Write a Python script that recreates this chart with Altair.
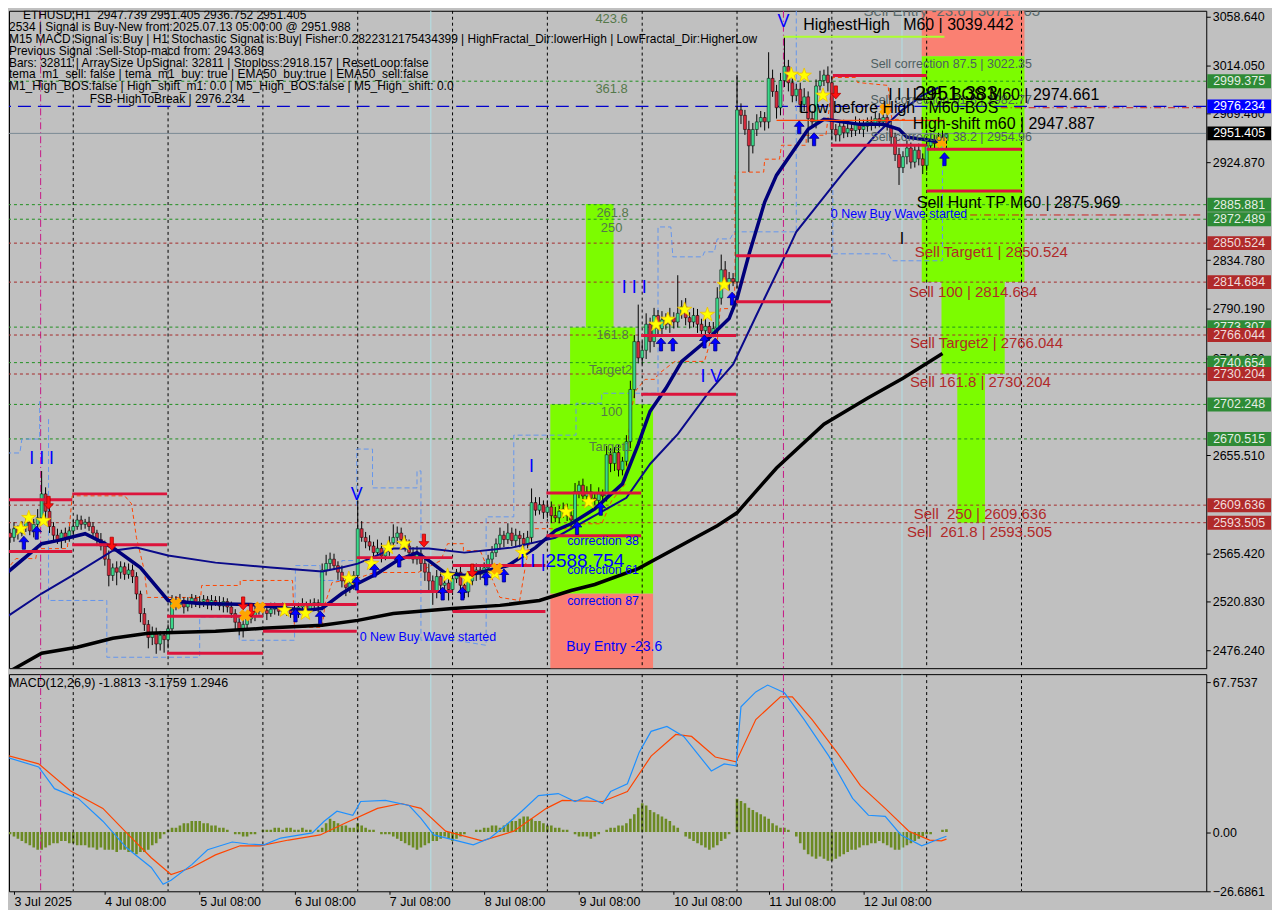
import altair as alt
import pandas as pd

FONT = "Liberation Sans"
W, H_MAIN, H_MACD = 1202, 660, 218
XDOM = [1, 301.5]            # hours after 3 Jul 2025 08:00
YDOM = [2459.77, 3064.13]    # price
MDOM = [-26.75, 71.33]       # MACD

# ---------------- candles (one per hour) ----------------
closes = [
    2580, 2588, 2584, 2590, 2594, 2586, 2592, 2598, 2620, 2604,
    2590, 2582, 2578, 2584, 2580, 2586, 2590, 2596, 2592, 2594,
    2590, 2584, 2578, 2572, 2560, 2545, 2552, 2548, 2553, 2546,
    2550, 2544, 2528, 2510, 2500, 2488, 2492, 2482, 2490, 2486,
    2496, 2522, 2518, 2522, 2516, 2520, 2524, 2519, 2521, 2523,
    2518, 2522, 2520, 2517, 2521, 2516, 2510, 2502, 2496, 2500,
    2505, 2508, 2512, 2515, 2513, 2510, 2514, 2516, 2512, 2515,
    2513, 2510, 2512, 2516, 2518, 2514, 2518, 2520, 2517, 2550,
    2556, 2560, 2554, 2548, 2540, 2534, 2538, 2545, 2588, 2580,
    2576, 2572, 2566, 2570, 2563, 2568, 2575, 2580, 2584, 2578,
    2572, 2566, 2560, 2565, 2556, 2548, 2540, 2530, 2544, 2536,
    2538, 2532, 2542, 2548, 2536, 2530, 2540, 2546, 2550, 2546,
    2552, 2560, 2566, 2574, 2582, 2578, 2584, 2577, 2582, 2579,
    2574, 2580, 2612, 2605, 2610, 2603, 2608, 2600, 2598, 2604,
    2606, 2600, 2596, 2622, 2628, 2618, 2622, 2616, 2614, 2620,
    2618, 2656, 2648, 2658, 2642, 2650, 2668, 2716, 2760, 2745,
    2752, 2776, 2760, 2784, 2772, 2780, 2776, 2782, 2778, 2786,
    2792, 2782, 2778, 2784, 2776, 2770, 2774, 2768, 2772, 2800,
    2826, 2814, 2818, 2815, 2973, 2968, 2955, 2940, 2955, 2962,
    2966, 2962, 3002, 2990, 2975, 3000, 3013, 2998, 2986, 2992,
    2978, 2985, 2965, 2962, 2995, 3000, 3005, 2998, 2955, 2950,
    2958, 2952, 2956, 2954, 2960, 2955, 2958, 2962, 2960, 2965,
    2962, 2966, 2958, 2948, 2932, 2920, 2930, 2938, 2925, 2936,
    2928, 2922, 2940, 2945, 2942, 2948, 2947.739, 2951.405,
]
wick_up = [
    4, 6, 3, 5, 4, 6, 5, 8, 21, 6,
    5, 4, 6, 3, 5, 4, 6, 5, 4, 3,
    5, 4, 3, 6, 5, 8, 4, 6, 5, 4,
    6, 5, 4, 3, 5, 4, 6, 5, 4, 3,
    4, 5, 4, 6, 3, 5, 4, 3, 5, 4,
    3, 5, 4, 6, 4, 3, 5, 4, 6, 4,
    5, 4, 6, 3, 5, 4, 6, 4, 3, 5,
    4, 3, 5, 4, 6, 3, 5, 4, 3, 6,
    8, 6, 5, 4, 6, 3, 5, 4, 26, 7,
    5, 6, 4, 8, 5, 4, 6, 12, 6, 5,
    4, 6, 5, 7, 4, 6, 8, 5, 6, 4,
    5, 4, 6, 3, 5, 4, 7, 5, 6, 4,
    5, 4, 6, 5, 7, 4, 9, 5, 6, 4,
    5, 6, 13, 5, 7, 4, 6, 5, 8, 5,
    6, 5, 4, 8, 4, 6, 5, 7, 5, 6,
    4, 8, 6, 5, 7, 4, 6, 8, 6, 34,
    8, 10, 6, 7, 5, 8, 6, 9, 5, 35,
    6, 8, 5, 7, 6, 5, 8, 4, 6, 10,
    14, 8, 6, 5, 32, 6, 5, 8, 6, 7,
    6, 5, 24, 8, 6, 7, 28, 6, 9, 5,
    6, 8, 5, 7, 6, 9, 5, 8, 6, 5,
    4, 6, 5, 4, 7, 5, 6, 4, 5, 6,
    5, 4, 6, 5, 4, 6, 5, 7, 5, 4,
    6, 5, 4, 6, 5, 4, 6, 0,
]
wick_dn = [
    5, 4, 6, 3, 5, 4, 6, 5, 4, 7,
    6, 5, 4, 8, 5, 4, 6, 3, 5, 4,
    4, 5, 6, 4, 6, 10, 5, 12, 6, 5,
    4, 6, 5, 8, 6, 10, 7, 9, 6, 12,
    8, 4, 5, 3, 6, 4, 5, 3, 4, 5,
    4, 5, 3, 4, 6, 5, 4, 7, 6, 8,
    6, 4, 5, 3, 4, 6, 3, 5, 4, 3,
    5, 4, 3, 6, 4, 5, 3, 4, 6, 4,
    5, 6, 4, 7, 6, 8, 5, 6, 5, 4,
    6, 4, 5, 3, 6, 4, 5, 4, 6, 5,
    5, 6, 4, 5, 7, 8, 10, 12, 6, 8,
    6, 10, 5, 4, 8, 6, 5, 4, 6, 5,
    4, 5, 6, 4, 5, 7, 4, 5, 6, 8,
    5, 4, 6, 5, 4, 6, 5, 7, 4, 5,
    6, 5, 7, 4, 6, 5, 8, 6, 4, 5,
    6, 5, 8, 7, 6, 5, 4, 6, 8, 5,
    6, 8, 10, 5, 7, 6, 5, 8, 6, 5,
    5, 7, 6, 5, 8, 6, 5, 7, 4, 6,
    6, 5, 7, 4, 6, 8, 5, 24, 7, 6,
    5, 8, 6, 5, 10, 7, 6, 8, 6, 5,
    7, 6, 22, 5, 6, 4, 5, 8, 10, 6,
    6, 5, 4, 6, 5, 4, 7, 5, 6, 4,
    5, 6, 4, 8, 6, 16, 5, 7, 6, 5,
    6, 8, 5, 4, 6, 5, 4, 11,
]
first_open = 2584

# ---------------- indicator lines (hour, price) ----------------
ema_fast_h = [-1, 8, 12, 19, 26, 33, 40, 48, 61, 75, 79, 84, 88, 93, 98, 103, 106, 110, 115, 119,
              126, 133, 138, 142, 148, 155, 159, 162, 166, 170, 176, 182, 184, 187, 191, 194, 202,
              206, 208, 215, 221, 225, 227, 231, 236]
ema_fast_p = [2546.8, 2574.2, 2577.0, 2583.4, 2570.6, 2552.3, 2522.0, 2519.3, 2518.4, 2512.9,
              2514.7, 2528.4, 2537.6, 2546.8, 2558.7, 2566.0, 2558.7, 2547.7, 2545.0, 2547.7,
              2554.1, 2570.6, 2586.1, 2592.5, 2606.3, 2629.2, 2665.8, 2696.0, 2717.1, 2741.8,
              2760.1, 2781.2, 2799.5, 2839.8, 2888.3, 2913.0, 2955.2, 2964.3, 2963.4, 2959.7,
              2959.7, 2955.2, 2947.9, 2946.0, 2943.3]
ema_slow_h = [-1, 8, 17, 26, 32, 40, 52, 66, 79, 84, 88, 97, 106, 115, 127, 138, 156, 162, 169,
              177, 183, 189, 197, 199, 211, 219, 226, 231, 235]
ema_slow_p = [2506.5, 2528.4, 2547.7, 2567.8, 2570.6, 2563.3, 2556.8, 2552.3, 2548.6, 2552.3,
              2555.9, 2569.7, 2569.7, 2566.0, 2570.6, 2579.7, 2616.4, 2647.5, 2675.0, 2714.3,
              2739.1, 2784.9, 2845.3, 2860.9, 2915.8, 2949.7, 2973.5, 2986.3, 2993.6]
sma_h = [-1, 8, 17, 26, 35, 52, 64, 79, 88, 97, 112, 124, 134, 142, 148, 159, 179, 184, 194, 206,
         217, 226, 236]
sma_p = [2455.0, 2473.5, 2479.0, 2487.3, 2491.8, 2493.7, 2496.4, 2499.2, 2503.7, 2510.1, 2514.7,
         2517.5, 2522.0, 2531.2, 2536.7, 2551.3, 2590.7, 2602.6, 2643.8, 2684.1, 2707.9, 2726.3,
         2749.1]

# orange dashed trailing line
orange_h = [-1, 1.5, 6.5, 7, 14.5, 15.75, 29, 30.75, 32, 34, 34.75, 48.25, 48.5, 58.25, 58.25, 71.5,
            72, 79, 79.75, 81.5, 87.75, 92.25, 103.25, 109, 110.75, 114.75, 114.75, 119, 124, 129,
            132, 141.5, 142.75, 149.75, 152.25, 155.75, 157, 158.25, 160.75, 163.25, 164, 168.25,
            175.75, 177.25, 179, 179.75, 183.25, 183.5, 183.5, 190.75, 191, 194.75, 195.25, 201.5,
            201.5, 206.5, 208.25, 214, 214.5, 222.25, 222.75, 223.25, 226.5]
orange_p = [2549.5, 2560.5, 2560.5, 2569.7, 2569.7, 2618.2, 2618.2, 2610.9, 2579.7, 2549.5, 2524.8,
            2524.8, 2535.8, 2535.8, 2540.4, 2540.4, 2497.3, 2497.3, 2519.3, 2538.5, 2542.2, 2547.7,
            2547.7, 2558.7, 2574.2, 2574.2, 2567.8, 2567.8, 2524.8, 2522.0, 2588.0, 2588.0, 2592.5,
            2592.5, 2613.6, 2629.2, 2693.3, 2714.3, 2725.3, 2725.3, 2729.9, 2741.8, 2741.8, 2760.1,
            2760.1, 2790.3, 2790.3, 2817.8, 2915.8, 2915.8, 2927.7, 2927.7, 2940.5, 2940.5, 2949.7,
            2949.7, 3002.8, 3002.8, 2998.2, 2995.5, 2973.5, 2964.3, 2964.3]

# light-blue dashed channel pieces (group id, hour, price)
blue_g = [1] * 5 + [2] * 16 + [3] * 31 + [4] * 6
blue_h = [-1, 2.5, 3, 7.5, 7.5,
          9.75, 9.75, 24.5, 24.5, 39.75, 48, 48, 58, 58, 72, 72.25, 78.5, 78.5, 84, 84, 87.25,
          87.75, 87.75, 91.75, 91.75, 103, 103, 104, 104, 112.75, 120.5, 120.5, 127.5, 127.5,
          131.25, 143.25, 143.25, 149.75, 149.75, 158.25, 164, 164, 167.25, 167.75, 175.25,
          175.75, 178.25, 179, 182.25, 183.25, 199, 199,
          208.25, 208.25, 222.25, 223.25, 236, 236]
blue_p = [2657.6, 2657.6, 2670.4, 2670.4, 2705.2,
          2688.7, 2522.0, 2522.0, 2469.8, 2469.8, 2469.8, 2506.5, 2506.5, 2485.4, 2485.4, 2554.1,
          2554.1, 2540.4, 2540.4, 2558.7, 2558.7,
          2609.0, 2661.2, 2661.2, 2625.5, 2625.5, 2641.1, 2641.1, 2485.4, 2485.4, 2480.8, 2598.9,
          2598.9, 2674.0, 2674.0, 2674.0, 2703.3, 2703.3, 2712.5, 2712.5, 2712.5, 2865.4, 2865.4,
          2837.9, 2837.9, 2842.5, 2842.5, 2854.4, 2854.4, 2860.9, 2860.9, 3071.5,
          2906.6, 2840.7, 2840.7, 2834.3, 2834.3, 2946.0]

# red support / resistance segments
seg_h1 = [-0.25, -0.25, 15.75, 15.75, 39.75, 39.75, 64, 64, 87.75, 87.75, 112, 112, 135.75, 135.75,
          159.75, 159.75, 183.75, 183.75, 208.25, 207.75, 232, 232]
seg_h2 = [15.75, 15.75, 39.75, 39.75, 64, 64, 87.75, 87.75, 112, 112, 135.5, 135.5, 159.75, 159.75,
          183.75, 183.75, 207.75, 207.75, 232, 232, 256, 256]
seg_p = [2614.5, 2567.0, 2620.0, 2573.3, 2507.4, 2473.5, 2518.4, 2493.7, 2561.4, 2530.3, 2554.1,
         2511.9, 2620.9, 2581.6, 2765.6, 2711.6, 2838.9, 2796.7, 3004.6, 2940.5, 2936.9, 2898.4]

# fibonacci zones
zone_h1 = [136.75, 136.75, 141.75, 145.75, 230.75, 230.75, 235.75, 239.75]
zone_h2 = [162.75, 162.75, 158.25, 152.75, 256.75, 256.75, 251.75, 246.75]
zone_p1 = [2440.0, 2528.4, 2702.4, 2772.9, 3022.35, 2814.684, 2730.204, 2593.505]
zone_p2 = [2528.4, 2702.4, 2772.9, 2886.5, 3071.7, 3022.35, 2814.684, 2730.204]
zone_kind = ["entry", "zone", "zone", "zone", "entry", "zone", "zone", "zone"]

# markers
star_h = [2.75, 4.75, 8.5, 69.5, 74.75, 85.75, 91.5, 95.75, 99.75, 110.75, 115.75, 122.75, 129.75,
          140.75, 146.5, 163.5, 166.5, 170.75, 176.5, 180.75, 197.75, 201, 205.75]
star_p = [2587.9, 2598.0, 2595.3, 2512.9, 2510.1, 2542.2, 2555.9, 2570.6, 2574.2, 2545.0, 2542.2,
          2546.8, 2566.0, 2603.5, 2612.7, 2775.7, 2780.3, 2789.4, 2784.8, 2812.3, 3005.5, 3004.6,
          2986.3]
up_h = [3.5, 6.75, 72.25, 78.5, 87.75, 92.25, 98.5, 109.5, 114.5, 120.5, 125, 143.5, 149.5, 164.75,
        167.75, 175.75, 178.5, 182.75, 199.75, 203.5, 236.5]
up_p = [2575.1, 2584.3, 2508.3, 2506.5, 2537.6, 2549.5, 2558.7, 2528.4, 2528.4, 2542.2, 2545.0,
        2588.7, 2606.3, 2757.4, 2757.4, 2760.1, 2757.4, 2799.5, 2957.0, 2946.0, 2927.7]
dn_h = [9.75, 25.75, 59, 61, 104.75, 117, 209]
dn_p = [2611.8, 2574.2, 2519.3, 2512.9, 2577.0, 2549.5, 2989.1]
xm_h = [42, 59.5, 63.25, 123.25, 221.5, 235.75]
xm_p = [2519.3, 2508.3, 2515.6, 2551.3, 2973.5, 2943.3]

# horizontal levels
green_levels = [2999.375, 2885.881, 2872.489, 2773.307, 2740.654, 2702.248, 2670.515]
red_levels = [2850.524, 2814.684, 2766.044, 2730.204, 2609.636, 2593.505]
fsb_level = 2976.234
last_price = 2951.405
price_ticks = [3058.64, 3014.05, 2969.46, 2924.87, 2834.78, 2790.19, 2744.60, 2655.51, 2565.42,
               2520.83, 2476.24]

# vertical lines
grid_h = [16, 40, 64, 88, 112, 136, 160, 184, 208, 232, 256]
magenta_h = [7.75, 195.75]
lightblue_h = [106.5, 225.75]

# ---------------- MACD ----------------
macd_h = [-1, 7.25, 11.25, 17.25, 23.5, 29.5, 35.75, 38.75, 40.75, 46, 50, 56.25, 60.25, 64.25,
          68.5, 76.5, 79.5, 82.75, 86.75, 88.75, 95, 101, 104, 107.25, 113.25, 117.25, 121.5,
          125.5, 129.5, 133.75, 138.75, 143, 146, 150, 152, 156.25, 159.25, 162.25, 166.25, 170.5,
          174.5, 177.5, 180.75, 183.75, 185, 188.75, 191.75, 196, 201, 207.25, 213.25, 217.25,
          221.5, 225.5, 230.75, 235.75, 237]
macd_v = [33.9, 29.4, 19.6, 15.2, 4.9, -7.1, -16.0, -23.6, -21.8, -14.7, -8.0, -4.5, -5.4, -5.8,
          -2.7, -0.4, 4.9, 9.4, 7.6, 13.8, 14.3, 12.0, 6.2, -1.3, -4.0, -5.8, -2.7, 3.1, 9.4, 16.5,
          17.4, 13.8, 16.0, 12.9, 18.3, 21.8, 36.1, 45.5, 47.7, 43.2, 34.3, 27.6, 30.8, 29.9, 56.6,
          63.3, 66.4, 62.9, 50.8, 34.3, 15.2, 7.6, 7.1, -1.3, -6.2, -2.7, -1.8813]
sig_h = [-1, 7.25, 15.25, 23.5, 29.5, 35.75, 40.75, 46, 52, 58.25, 63.25, 70.5, 78.5, 84.75, 93,
         99, 104, 110.25, 119.5, 127.5, 135.75, 139.75, 150, 156.25, 162.25, 168.5, 172.5, 178.5,
         183.75, 188.75, 195, 198, 203, 209.25, 215.25, 221.5, 227.5, 232.75, 235.75, 237]
sig_v = [34.8, 30.8, 18.7, 10.7, -0.4, -11.6, -19.2, -16.0, -10.3, -6.2, -6.2, -3.6, -1.3, 4.0,
         10.7, 12.9, 10.7, 0.4, -4.0, 0.4, 10.7, 14.3, 13.8, 18.3, 34.3, 44.1, 43.2, 33.9, 31.7,
         50.8, 61.1, 61.1, 50.8, 36.1, 21.0, 10.7, 0.4, -3.6, -4.0, -3.1759]
hist = [
    -1, -2, -3, -4, -5, -6, -7, -8, -8, -7, -6, -5, -5, -4, -4, -5, -5, -6, -6,
    -6, -7, -7, -8, -7, -8, -8, -8, -9, -8, -8, -9, -9, -10, -9, -9, -8, -6, -5, -3, -1,
    1, 2, 2, 3, 4, 4, 5, 5, 5, 4, 4, 3, 3, 2, 2, 1, 0, -1, -1, -2, -2, -1, -1, 0, 1,
    1, 1, 2, 2, 1, 2, 2, 1, 1, 2, 1, 1, 0, 1, 2,
    4, 6, 5, 4, 3, 3, 2, 2, 4, 3, 2, 1, 1, 0, -1, -1,
    -1, -2, -3, -4, -5, -6, -7, -8, -7, -6, -5, -4, -4, -3, -2, -3, -4, -3, -2, -1, 0, 0, 1,
    1, 2, 2, 3, 3, 2, 3, 4, 5, 5, 6, 7, 7, 6, 5, 5, 4, 3, 3, 2, 2, 1,
    1, 0, -1, -2, -2, -2, -3, -2, -1, 0, 1, 2, 2,
    3, 3, 4, 6, 8, 11, 13, 12, 10, 9, 8, 7, 6, 5, 3, 2,
    0, -2, -3, -4, -5, -6, -7, -8, -7, -6, -4, -3, -1, 0,
    15, 14, 13, 11, 10, 9, 8, 7, 6, 4, 3, 2, 2, 1, 0, -2, -5, -8, -10,
    -11, -12, -11, -12, -13, -13, -12, -11, -10, -9, -8, -8, -7, -6, -6, -5, -5, -4,
    -5, -6, -7, -8, -8, -7, -6, -5, -4, -3, -2, -1, -1, 0, 0, 1, 1.2946,
]
macd_ticks = [67.7537, 0, -26.6861]
date_ticks = [1, 24, 48, 72, 96, 120, 144, 168, 192, 216]

# ---------------- text ----------------
info_line1 = "ETHUSD,H1\u00a0\u00a02947.739 2951.405 2936.752 2951.405"
info_lines = [
    "2534 | Signal is Buy-New from:2025.07.13 05:00:00 @ 2951.988",
    "M15 MACD Signal is:Buy | H1 Stochastic Signal is:Buy| Fisher:0.2822312175434399 | HighFractal_Dir:lowerHigh | LowFractal_Dir:HigherLow",
    "Previous Signal :Sell-Stop-macd from: 2943.869",
    "Bars: 32811 | ArraySize UpSignal: 32811 | Stoploss:2918.157 | ResetLoop:false",
    "tema_m1_sell: false | tema_m1_buy: true | EMA50_buy:true | EMA50_sell:false",
    "M1_High_BOS:false | High_shift_m1: 0.0 | M5_High_BOS:false | M5_High_shift: 0.0",
]
info_line8 = "FSB-HighToBreak | 2976.234"
macd_title = "MACD(12,26,9) -1.8813 -3.1759 1.2946"

black_big = [
    ("HighestHigh\u00a0\u00a0\u00a0M60 | 3039.442", 200.75, 3051.3),
    ("Sell Hunt TP M60 | 2875.969", 229.5, 2887.4),
    ("High-shift m60 | 2947.887", 228.5, 2959.7),
    ("Low before High\u00a0\u00a0\u00a0M60-BOS", 199.75, 2974.4),
    ("LLH_BOS M60 | 2974.661", 228.5, 2986.3),
    ("I I I", 222.25, 2986.3),
]
black_huge = [("2951.383", 229, 2987.2)]
black_tick = [("I", 225.75, 2854.4)]
gray_small = [
    ("Sell correction 87.5 | 3022.35", 217.75, 3015.6),
    ("Sell correction 61.8 | 2982.77", 217.75, 2981.7),
    ("Sell correction 38.2 | 2954.96", 217.75, 2947.8),
]
gray_big = [("Sell Entry -23.6 | 3071.703", 216, 3064.1)]
sell_red = [
    ("Sell Target1 | 2850.524", 229, 2842.5),
    ("Sell 100 | 2814.684", 227.5, 2805.9),
    ("Sell Target2 | 2766.044", 227.75, 2758.3),
    ("Sell 161.8 | 2730.204", 227.75, 2722.6),
    ("Sell\u00a0 250 | 2609.636", 228.75, 2601.7),
    ("Sell\u00a0 261.8 | 2593.505", 227, 2585.2),
]
fib_olive = [
    ("423.6", 152.25, 3057.0), ("361.8", 152.25, 2991.8), ("261.8", 152.5, 2878.3),
    ("250", 152.25, 2864.5), ("161.8", 152.5, 2765.6), ("Target2", 152, 2733.6),
    ("100", 152.25, 2695.1), ("Target1", 152, 2663.1),
]
blue_small = [
    ("correction 38", 141, 2577.0), ("correction 61", 141, 2550.4), ("correction 87", 141, 2521.1),
    ("0 New Buy Wave started", 88.5, 2488.1), ("0 New Buy Wave started", 207.75, 2877.3),
]
blue_mid = [("Buy Entry -23.6", 140.75, 2479.0)]
blue_big = [("2588.754", 135.5, 2558.7), ("I I |", 129, 2558.7)]
roman = [("I I I", 8, 2652.1), ("V", 87.75, 2619.1), ("I", 132, 2644.8), ("I I I", 158, 2809.6),
         ("I V", 177.5, 2727.2), ("V", 195.75, 3053.5)]

STAR = "M0,-1L0.235,-0.324L0.951,-0.309L0.38,0.124L0.588,0.809L0,0.4L-0.588,0.809L-0.38,0.124L-0.951,-0.309L-0.235,-0.324Z"
UP = "M0,-1L0.75,-0.15L0.25,-0.15L0.25,1L-0.25,1L-0.25,-0.15L-0.75,-0.15Z"
DOWN = "M0,1L0.75,0.15L0.25,0.15L0.25,-1L-0.25,-1L-0.25,0.15L-0.75,0.15Z"

# ---------------- shared axes ----------------
PRICE_AXIS = alt.Axis(orient="right", values=price_ticks, format=".3f", title=None,
                      labelFont=FONT, labelFontSize=12.5, labelColor="black",
                      tickColor="black", tickSize=4, labelPadding=2, domain=False,
                      grid=False, labelOverlap=False, zindex=0)
DATE_AXIS = alt.Axis(values=date_ticks, title=None, labelAlign="left",
                     labelExpr="datum.value < 12 ? '3 Jul 2025' : (floor(datum.value/24)+3) + ' Jul 08:00'",
                     labelFont=FONT, labelFontSize=12.5, labelColor="black", tickColor="black",
                     tickSize=3, labelPadding=1, domain=False, grid=False,
                     labelOverlap=False, labelFlush=False)
MACD_AXIS = alt.Axis(orient="right", values=macd_ticks, title=None,
                     labelExpr="datum.value == 0 ? '0.00' : format(datum.value, '.4f')",
                     labelFont=FONT, labelFontSize=12.5, labelColor="black",
                     tickColor="black", tickSize=4, labelPadding=2, domain=False,
                     grid=False, labelOverlap=False)


def X(f):
    return alt.X(f, type="quantitative", scale=alt.Scale(domain=XDOM), axis=None)


def Y(f):
    return alt.Y(f, type="quantitative", scale=alt.Scale(domain=YDOM), axis=PRICE_AXIS)


def XM(f):
    return alt.X(f, type="quantitative", scale=alt.Scale(domain=XDOM), axis=DATE_AXIS)


def YM(f):
    return alt.Y(f, type="quantitative", scale=alt.Scale(domain=MDOM), axis=MACD_AXIS)


def texts(items, size, color, align="left"):
    df = pd.DataFrame(items, columns=["t", "h", "p"])
    return alt.Chart(df).mark_text(font=FONT, fontSize=size, color=color, align=align,
                                   baseline="middle", clip=True).encode(
        x=X("h"), y=Y("p"), text="t")


def points(hs, ps, shape, size, fill, stroke=None, angle=0):
    df = pd.DataFrame({"h": hs, "p": ps})
    kw = dict(shape=shape, size=size, filled=True, fill=fill, opacity=1, clip=True, angle=angle)
    if stroke:
        kw.update(stroke=stroke, strokeWidth=0.8)
    else:
        kw.update(strokeWidth=0)
    return alt.Chart(df).mark_point(**kw).encode(x=X("h"), y=Y("p"))


def boxes(levels, fill, tcolor):
    df = pd.DataFrame({"p": levels, "t": [f"{v:.3f}" for v in levels]})
    r = alt.Chart(df).mark_rect(fill=fill, yOffset=-7, y2Offset=7).encode(
        x=alt.value(W + 1), x2=alt.value(W + 65), y=Y("p"), y2="p")
    t = alt.Chart(df).mark_text(font=FONT, fontSize=12.5, color=tcolor, align="center",
                                baseline="middle").encode(x=alt.value(W + 33), y=Y("p"), text="t")
    return [r, t]


dummy = pd.DataFrame({"d": [0]})

# ---------------- main panel ----------------
n = len(closes)
opens = [first_open] + closes[:-1]
cdf = pd.DataFrame({
    "h": list(range(n)), "open": opens, "close": closes,
    "high": [max(o, c) + w for o, c, w in zip(opens, closes, wick_up)],
    "low": [min(o, c) - w for o, c, w in zip(opens, closes, wick_dn)],
})

zdf = pd.DataFrame({"h1": zone_h1, "h2": zone_h2, "p1": zone_p1, "p2": zone_p2, "k": zone_kind})
zones = alt.Chart(zdf).mark_rect(clip=True).encode(
    x=X("h1"), x2="h2", y=Y("p1"), y2="p2",
    color=alt.Color("k:N", scale=alt.Scale(domain=["zone", "entry"], range=["#7cfc00", "#fa8072"]),
                    legend=None))

grid = alt.Chart(pd.DataFrame({"h": grid_h})).mark_rule(color="black", strokeDash=[3, 3],
                                                          strokeWidth=1, clip=True).encode(x=X("h"))
magenta = alt.Chart(pd.DataFrame({"h": magenta_h})).mark_rule(
    color="#c71585", strokeDash=[7, 3, 1, 3], strokeWidth=1, clip=True).encode(x=X("h"))
lblue = alt.Chart(pd.DataFrame({"h": lightblue_h})).mark_rule(
    color="#b0e0e6", strokeWidth=1, clip=True).encode(x=X("h"))

glev = alt.Chart(pd.DataFrame({"p": green_levels})).mark_rule(
    color="#1f8f1f", strokeDash=[3, 3], strokeWidth=1, clip=True).encode(y=Y("p"))
rlev = alt.Chart(pd.DataFrame({"p": red_levels})).mark_rule(
    color="#a52a2a", strokeDash=[3, 3], strokeWidth=1, clip=True).encode(y=Y("p"))
fsb = alt.Chart(pd.DataFrame({"p": [fsb_level]})).mark_rule(
    color="#0000cd", strokeDash=[13, 7], strokeWidth=1.2, clip=True).encode(y=Y("p"))
lastp = alt.Chart(pd.DataFrame({"p": [last_price]})).mark_rule(
    color="#7a8a94", strokeWidth=1, clip=True).encode(y=Y("p"))
dashdot = alt.Chart(pd.DataFrame({"h1": [243, 250.75], "h2": [301.5, 301.5],
                                  "p": [2876.4, 2975.0]})).mark_rule(
    color="#cc1f1f", strokeDash=[7, 3, 1, 3], strokeWidth=1, clip=True).encode(
    x=X("h1"), x2="h2", y=Y("p"))
hh_line = alt.Chart(pd.DataFrame({"h1": [195.75], "h2": [236.5], "p": [3040.3]})).mark_rule(
    color="#adff2f", strokeWidth=2, clip=True).encode(x=X("h1"), x2="h2", y=Y("p"))
lbh_line = alt.Chart(pd.DataFrame({"h1": [194], "h2": [236.5], "p": [2963.4]})).mark_rule(
    color="#ff4500", strokeWidth=1.2, clip=True).encode(x=X("h1"), x2="h2", y=Y("p"))

odf = pd.DataFrame({"h": orange_h, "p": orange_p, "i": list(range(len(orange_h)))})
orange = alt.Chart(odf).mark_line(color="#ff4500", strokeDash=[4, 3], strokeWidth=1,
                                  clip=True).encode(x=X("h"), y=Y("p"), order="i")
bdf = pd.DataFrame({"h": blue_h, "p": blue_p, "g": blue_g, "i": list(range(len(blue_h)))})
bluel = alt.Chart(bdf).mark_line(color="#6495ed", strokeDash=[5, 3], strokeWidth=1,
                                 clip=True).encode(x=X("h"), y=Y("p"), detail="g:N", order="i")

wicks = alt.Chart(cdf).mark_rule(color="black", strokeWidth=1, clip=True).encode(
    x=X("h"), y=Y("low"), y2="high")
bodies = alt.Chart(cdf).mark_bar(size=3, stroke="black", strokeWidth=0.5, clip=True).encode(
    x=X("h"), y=Y("open"), y2="close",
    color=alt.condition("datum.close >= datum.open", alt.value("#3ad98a"), alt.value("#d42a3c")))

sma = alt.Chart(pd.DataFrame({"h": sma_h, "p": sma_p})).mark_line(
    color="black", strokeWidth=3.5, clip=True).encode(x=X("h"), y=Y("p"))
slow = alt.Chart(pd.DataFrame({"h": ema_slow_h, "p": ema_slow_p})).mark_line(
    color="#0a0a8a", strokeWidth=2, clip=True).encode(x=X("h"), y=Y("p"))
fast = alt.Chart(pd.DataFrame({"h": ema_fast_h, "p": ema_fast_p})).mark_line(
    color="#00007a", strokeWidth=3.5, clip=True).encode(x=X("h"), y=Y("p"))

segs = alt.Chart(pd.DataFrame({"h1": seg_h1, "h2": seg_h2, "p": seg_p})).mark_rule(
    color="#dc143c", strokeWidth=3, clip=True).encode(x=X("h1"), x2="h2", y=Y("p"))

stars = points(star_h, star_p, STAR, 230, "#ffff00", stroke="#f0c000")
ups = points(up_h, up_p, UP, 170, "#0000ff", stroke="#000080")
dns = points(dn_h, dn_p, DOWN, 170, "#ff1010", stroke="#b00000")
xms = points(xm_h, xm_p, "cross", 150, "#ffa500", angle=45)

info1 = alt.Chart(dummy).mark_text(text=info_line1, font=FONT, fontSize=12, color="black",
                                   align="left", baseline="middle", clip=True).encode(
    x=alt.value(14), y=alt.value(4))
info2 = alt.Chart(dummy).mark_text(text=info_lines, font=FONT, fontSize=12, color="black",
                                   align="left", baseline="top", lineHeight=12).encode(
    x=alt.value(0), y=alt.value(11))
info8 = alt.Chart(dummy).mark_text(text=info_line8, font=FONT, fontSize=12, color="black",
                                   align="left", baseline="middle").encode(
    x=alt.value(81), y=alt.value(89))

main_layers = [
    zones, grid, magenta, lblue, glev, rlev, fsb, lastp, dashdot, orange, bluel,
    wicks, bodies, sma, slow, fast, segs, hh_line, lbh_line,
    stars, ups, dns, xms,
    texts(fib_olive, 13, "#55784a", align="center"),
    texts(blue_small, 12.5, "#0000ff"),
    texts(blue_mid, 14, "#0000ff"),
    texts(blue_big, 19, "#0000ff"),
    texts(roman, 18, "#0000ff", align="center"),
    texts(gray_small, 12.5, "#4e5e60"),
    texts(gray_big, 15, "#5a6a6c"),
    texts(sell_red, 15, "#b02a2a"),
    texts(black_big, 16, "black"),
    texts(black_huge, 20, "black"),
    texts(black_tick, 16, "black", align="center"),
    info1, info2, info8,
]
main_layers += boxes(green_levels, "#2e8b36", "#e4eee4")
main_layers += boxes(red_levels, "#b02a2a", "#f0dcdc")
main_layers += boxes([fsb_level], "#0000ff", "white")
main_layers += boxes([last_price], "black", "white")

main = alt.layer(*main_layers).properties(width=W, height=H_MAIN)

# ---------------- MACD panel ----------------
hdf = pd.DataFrame({"h": list(range(len(hist))), "v": hist, "z": [0] * len(hist)})
hbars = alt.Chart(hdf).mark_bar(size=2.6, color="#6b8a23", clip=True).encode(
    x=XM("h"), y=YM("v"), y2="z")
mgrid = alt.Chart(pd.DataFrame({"h": grid_h})).mark_rule(
    color="black", strokeDash=[3, 3], strokeWidth=1, clip=True).encode(x=XM("h"))
mmag = alt.Chart(pd.DataFrame({"h": magenta_h})).mark_rule(
    color="#c71585", strokeDash=[7, 3, 1, 3], strokeWidth=1, clip=True).encode(x=XM("h"))
mlb = alt.Chart(pd.DataFrame({"h": lightblue_h})).mark_rule(
    color="#b0e0e6", strokeWidth=1, clip=True).encode(x=XM("h"))
sigl = alt.Chart(pd.DataFrame({"h": sig_h, "v": sig_v})).mark_line(
    color="#ff4500", strokeWidth=1.2, clip=True).encode(x=XM("h"), y=YM("v"))
macl = alt.Chart(pd.DataFrame({"h": macd_h, "v": macd_v})).mark_line(
    color="#1e90ff", strokeWidth=1.2, clip=True).encode(x=XM("h"), y=YM("v"))
mtitle = alt.Chart(dummy).mark_text(text=macd_title, font=FONT, fontSize=12.5, color="black",
                                    align="left", baseline="middle").encode(
    x=alt.value(0), y=alt.value(9))

macd = alt.layer(hbars, mgrid, mmag, mlb, sigl, macl, mtitle).properties(width=W, height=H_MACD)

chart = alt.vconcat(main, macd, spacing=4).properties(
    padding={"left": 0, "right": 0, "top": 0, "bottom": 0},
    background="#c0c0c0",
).configure_view(stroke="black", strokeWidth=1, fill="#c0c0c0")

chart.save("out.html", embed_options={"renderer": "svg", "actions": False})
